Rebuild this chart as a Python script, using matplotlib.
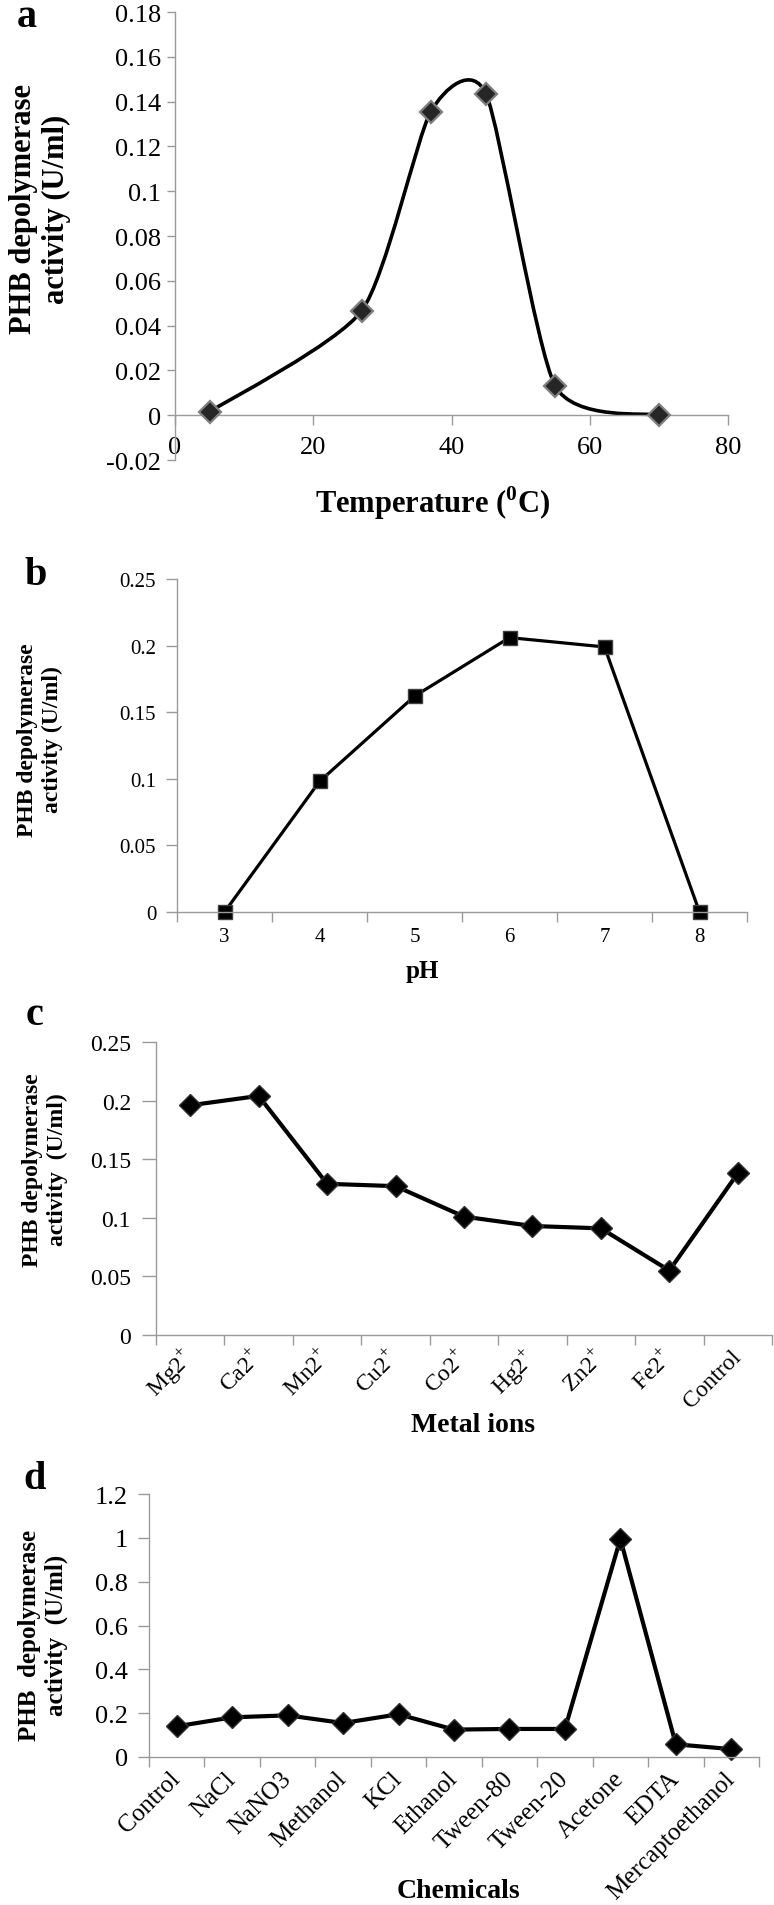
import numpy as np
import matplotlib
matplotlib.use("Agg")
import matplotlib.pyplot as plt
from matplotlib.path import Path
from matplotlib.patches import PathPatch

# ---- data ----
temp_x = [5, 27, 37, 45, 55, 70]
temp_y = [0.0015, 0.0466, 0.1355, 0.1434, 0.0131, 0.0]

ph_labels = ["3", "4", "5", "6", "7", "8"]
ph_y = [0.0, 0.098, 0.162, 0.206, 0.199, 0.0]

metal_labels = ["Mg2$^{+}$", "Ca2$^{+}$", "Mn2$^{+}$", "Cu2$^{+}$", "Co2$^{+}$",
                "Hg2$^{+}$", "Zn2$^{+}$", "Fe2$^{+}$", "Control"]
metal_y = [0.196, 0.204, 0.129, 0.127, 0.101, 0.093, 0.091, 0.055, 0.138]

chem_labels = ["Control", "NaCl", "NaNO3", "Methanol", "KCl", "Ethanol",
               "Tween-80", "Tween-20", "Acetone", "EDTA", "Mercaptoethanol"]
chem_y = [0.14, 0.181, 0.19, 0.155, 0.195, 0.125, 0.128, 0.128, 0.995, 0.058, 0.036]

plt.rcParams["font.family"] = ["Liberation Serif", "DejaVu Serif"]
plt.rcParams["mathtext.fontset"] = "custom"
plt.rcParams["mathtext.rm"] = "Liberation Serif"
plt.rcParams["mathtext.bf"] = "Liberation Serif:bold"
plt.rcParams["axes.unicode_minus"] = False

W, H = 774, 1906
fig = plt.figure(figsize=(W / 100, H / 100), dpi=100)
SPINE = "#9a9a9a"


def px_axes(left, top, right, bottom):
    return fig.add_axes([left / W, 1 - bottom / H, (right - left) / W, (bottom - top) / H])


def ftext(x, y, s, **kw):
    return fig.text(x / W, 1 - y / H, s, **kw)


def fmt(v):
    v = round(v, 3)
    return "0" if abs(v) < 1e-9 else f"{v:g}"


def style(ax, yticks, ysize, ylen, ypad):
    for side in ["top", "right"]:
        ax.spines[side].set_visible(False)
    for side in ["left", "bottom"]:
        ax.spines[side].set_color(SPINE)
        ax.spines[side].set_linewidth(1.0)
    ax.set_yticks(yticks)
    ax.set_yticklabels([fmt(v) for v in yticks])
    ax.tick_params(axis="y", direction="out", length=ylen, width=1, color=SPINE,
                   labelsize=ysize, pad=ypad)


def category_axis(ax, labels, size, pad, rot=0):
    n = len(labels)
    ax.set_xlim(-0.5, n - 0.5)
    ax.set_xticks(np.arange(-0.5, n, 1.0))
    ax.set_xticklabels([])
    ax.tick_params(axis="x", which="major", direction="out", length=7, width=1, color=SPINE)
    ax.set_xticks(np.arange(n), minor=True)
    ax.set_xticklabels(labels, minor=True)
    ax.tick_params(axis="x", which="minor", length=0, labelsize=size, pad=pad)
    if rot:
        for lab in ax.get_xticklabels(minor=True):
            lab.set_rotation(rot)
            lab.set_ha("right")
            lab.set_va("center")
            lab.set_rotation_mode("anchor")


def smooth_path(xs, ys, k=0.11):
    # smoothed line like a spreadsheet chart: Catmull-Rom style cubic Bezier
    pts = np.column_stack([xs, ys]).astype(float)
    n = len(pts)
    verts = [pts[0]]
    codes = [Path.MOVETO]
    for i in range(n - 1):
        p0 = pts[max(i - 1, 0)]
        p1 = pts[i]
        p2 = pts[i + 1]
        p3 = pts[min(i + 2, n - 1)]
        verts += [p1 + (p2 - p0) * k, p2 - (p3 - p1) * k, p2]
        codes += [Path.CURVE4] * 3
    return Path(np.array(verts), codes)


# ---- a: temperature ----
ax = px_axes(175, 13, 728, 461)
ax.set_xlim(0, 80)
ax.set_ylim(-0.02, 0.18)
style(ax, np.arange(-0.02, 0.181, 0.02), 19, 6, 4)
ax.spines["bottom"].set_position(("data", 0))
ax.set_xticks([0, 20, 40, 60, 80])
ax.tick_params(axis="x", direction="out", length=7, width=1, color=SPINE, labelsize=19, pad=8)
ax.add_patch(PathPatch(smooth_path(temp_x, temp_y), fill=False, lw=2.6, ec="black", zorder=2))
ax.plot(temp_x, temp_y, ls="none", marker="D", ms=11, mfc="#262626", mec="#808080", mew=1.6, zorder=3)
ftext(40, 209, "PHB depolymerase\nactivity (U/ml)", rotation=90, ha="center", va="center",
      fontsize=22, fontweight="bold", multialignment="center")
ftext(433, 513, r"Temperature ($^{\mathbf{0}}$C)", ha="center", va="baseline", fontsize=22, fontweight="bold")
ftext(27, 27, "a", ha="center", va="baseline", fontsize=29, fontweight="bold")

# ---- b: pH ----
ax = px_axes(177, 580, 747, 913)
ax.set_ylim(0, 0.25)
style(ax, np.arange(0, 0.251, 0.05), 15, 8, 7)
category_axis(ax, ph_labels, 15, 11)
ax.plot(np.arange(len(ph_y)), ph_y, color="black", lw=2.3, marker="s", ms=10,
        mfc="black", mec="#404040", clip_on=False)
ftext(40, 740, "PHB depolymerase\nactivity (U/ml)", rotation=90, ha="center", va="center",
      fontsize=17, fontweight="bold", multialignment="center")
ftext(422, 978, "pH", ha="center", va="baseline", fontsize=18, fontweight="bold")
ftext(36, 585, "b", ha="center", va="baseline", fontsize=29, fontweight="bold")

# ---- c: metal ions ----
ax = px_axes(156, 1043, 772, 1336)
ax.set_ylim(0, 0.25)
style(ax, np.arange(0, 0.251, 0.05), 17, 10, 8)
category_axis(ax, metal_labels, 17, 13, rot=45)
ax.plot(np.arange(len(metal_y)), metal_y, color="black", lw=3, marker="D", ms=11,
        mfc="black", mec="#303030", clip_on=False)
ftext(45, 1170, "PHB depolymerase\nactivity  (U/ml)", rotation=90, ha="center", va="center",
      fontsize=17, fontweight="bold", multialignment="center")
ftext(473, 1432, "Metal ions", ha="center", va="baseline", fontsize=20, fontweight="bold")
ftext(35, 1025, "c", ha="center", va="baseline", fontsize=29, fontweight="bold")

# ---- d: chemicals ----
ax = px_axes(149, 1495, 759, 1758)
ax.set_ylim(0, 1.2)
style(ax, np.arange(0, 1.21, 0.2), 19, 8, 7)
category_axis(ax, chem_labels, 18, 13, rot=45)
ax.plot(np.arange(len(chem_y)), chem_y, color="black", lw=3, marker="D", ms=11,
        mfc="black", mec="#303030", clip_on=False)
ftext(43, 1635, "PHB  depolymerase\nactivity  (U/ml)", rotation=90, ha="center", va="center",
      fontsize=18, fontweight="bold", multialignment="center")
ftext(458, 1898, "Chemicals", ha="center", va="baseline", fontsize=20, fontweight="bold")
ftext(35, 1489, "d", ha="center", va="baseline", fontsize=29, fontweight="bold")

fig.savefig("out.png", dpi=100)
